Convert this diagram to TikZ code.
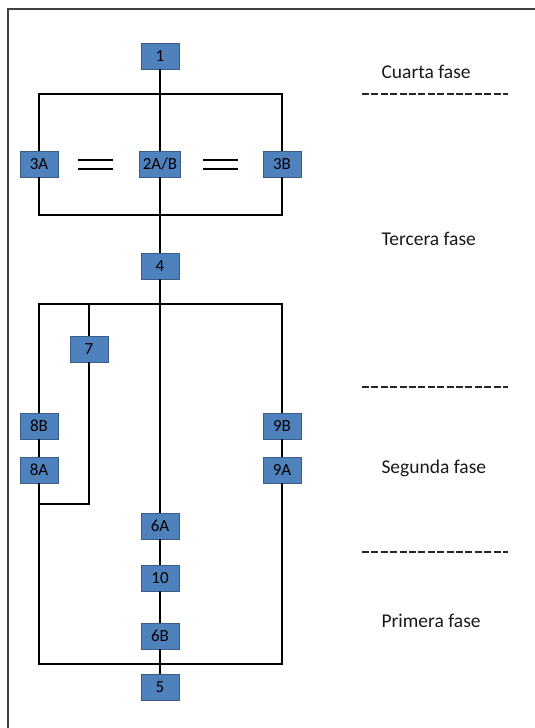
\documentclass[tikz,border=0pt]{standalone}
\usepackage{fontspec}
\setmainfont{Carlito}
\definecolor{boxblue}{HTML}{4F81BD}
\definecolor{boxedge}{HTML}{385D8A}
\begin{document}
\begin{tikzpicture}[x=1pt,y=-1pt]
    \tikzstyle{all nodes}=[inner sep=0pt]
    \tikzstyle{part}=[draw=boxedge,fill=boxblue,line width=0.8pt,minimum width=38pt,minimum height=26pt,font=\fontsize{17}{19}\selectfont]
    \tikzstyle{wire}=[line width=2pt,black]
    \tikzstyle{phase}=[anchor=west,font=\fontsize{19.5}{22}\selectfont,text=black!90]
    \tikzstyle{cut}=[line width=2pt,black!85,dash pattern=on 7pt off 2.4pt]
    \useasboundingbox (0,0) rectangle (535,728);
    \draw[line width=1.6pt,black!75] (8,728)--(8,9)--(535,9);
    % boxes
    \draw node[part](one)at(160,56){1}
          node[part](tresA)at(39,164){3A}
          node[part](dosAB)at(160,164){2A/B}
          node[part](tresB)at(282,164){3B}
          node[part](four)at(160,266){4}
          node[part](seven)at(89,349){7}
          node[part](ochoB)at(39,426){8B}
          node[part](ochoA)at(39,470){8A}
          node[part](nueveB)at(282,426){9B}
          node[part](nueveA)at(282,470){9A}
          node[part](seisA)at(160,526){6A}
          node[part](ten)at(160,578){10}
          node[part](seisB)at(160,636){6B}
          node[part](five)at(160,687){5};
    % junctions
    \coordinate(tl)at(39,94); \coordinate(tr)at(282,94);
    \coordinate(bl)at(39,215); \coordinate(br)at(282,215);
    \coordinate(ml)at(39,304); \coordinate(mr)at(282,304);
    \coordinate(m7)at(89,304);
    \coordinate(c7)at(89,504); \coordinate(c8)at(39,504);
    \coordinate(ll)at(39,664); \coordinate(lr)at(282,664);
    % wires
    \draw[wire](one)--(dosAB);
    \draw[wire](tresA)--(tl)--(tr)--(tresB);
    \draw[wire](tresA)--(bl)--(br)--(tresB);
    \draw[wire](dosAB)--(four);
    \draw[wire](four)--(seisA);
    \draw[wire](ochoB)--(ml)--(mr)--(nueveB);
    \draw[wire](m7)--(seven);
    \draw[wire](seven)--(c7)--(c8);
    \draw[wire](ochoB)--(ochoA);
    \draw[wire](nueveB)--(nueveA);
    \draw[wire](ochoA)--(ll)--(lr)--(nueveA);
    \draw[wire](seisA)--(ten);
    \draw[wire](ten)--(seisB);
    \draw[wire](seisB)--(five);
    % equal signs
    \draw[line width=2pt](78,160)--(113,160) (78,169)--(113,169);
    \draw[line width=2pt](203,160)--(238,160) (203,169)--(238,169);
    % phases
    \draw[cut](362,94)--(508,94);
    \draw[cut](362,387)--(508,387);
    \draw[cut](362,552)--(508,552);
    \draw node[phase](cuarta)at(378,72){Cuarta fase}
          node[phase](tercera)at(378,239){Tercera fase}
          node[phase](segunda)at(378,468){Segunda fase}
          node[phase](primera)at(378,621){Primera fase};
\end{tikzpicture}
\end{document}
